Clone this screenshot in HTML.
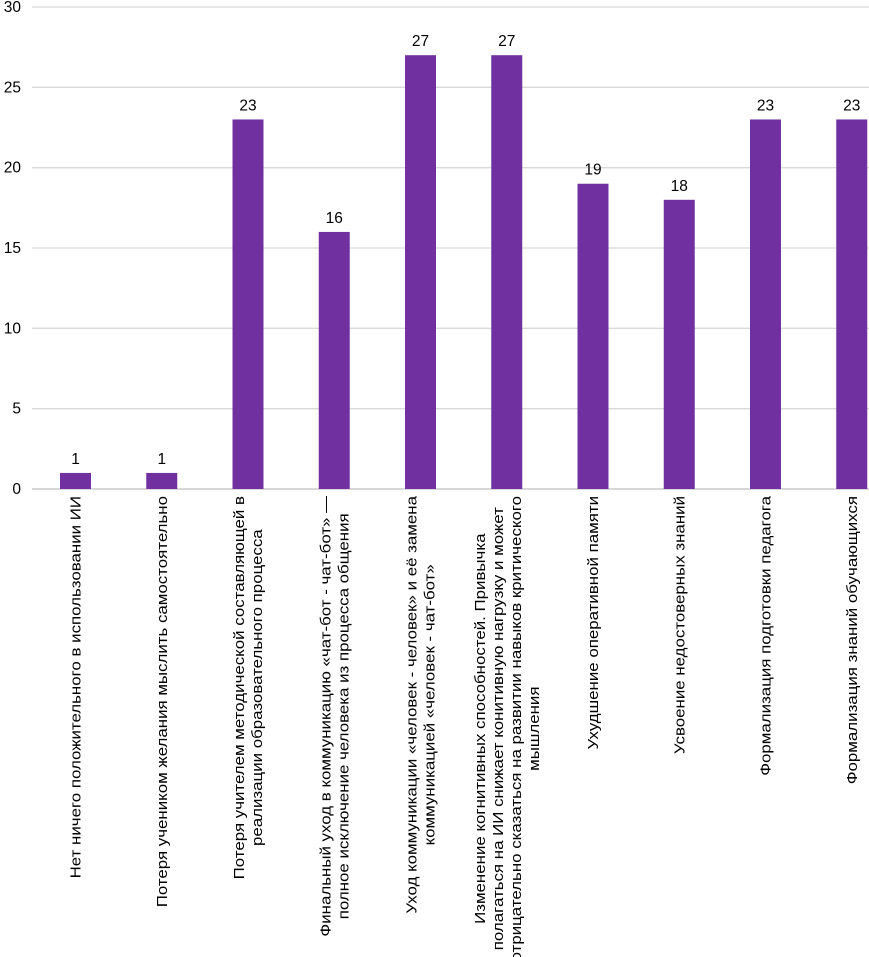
<!DOCTYPE html>
<html><head><meta charset="utf-8"><style>
html,body{margin:0;padding:0;background:#fff;}
svg{display:block;font-family:"Liberation Sans",Arial,sans-serif;}
</style></head><body>
<svg id="chart" width="869" height="957" viewBox="0 0 869 957" xmlns="http://www.w3.org/2000/svg">
<g id="grid"></g>
<g id="yticks"></g>
<g id="bars"></g>
<g id="vals"></g>
<g id="xlabels"></g>
</svg>
<script>
const categories = [
  ["Нет ничего положительного в использовании ИИ"],
  ["Потеря учеником желания мыслить самостоятельно"],
  ["Потеря учителем методической составляющей в","реализации образовательного процесса"],
  ["Финальный уход в коммуникацию «чат-бот - чат-бот» —","полное исключение человека из процесса общения"],
  ["Уход коммуникации «человек - человек» и её замена","коммуникацией «человек - чат-бот»"],
  ["Изменение когнитивных способностей. Привычка","полагаться на ИИ снижает конитивную нагрузку и может","отрицательно сказаться на развитии навыков критического","мышления"],
  ["Ухудшение оперативной памяти"],
  ["Усвоение недостоверных знаний"],
  ["Формализация подготовки педагога"],
  ["Формализация знаний обучающихся"]
];
const values = [1,1,23,16,27,27,19,18,23,23];
const yTicks = [0,5,10,15,20,25,30];

const NS="http://www.w3.org/2000/svg";
const plotL=32, plotR=869, y0=489, yTop=7, yMax=30;
const step=86.25, firstC=75.5, barW=31;
function yS(v){return y0-(v/yMax)*(y0-yTop);}
function xC(i){return firstC+i*step;}
function mk(tag,attrs,parent){const e=document.createElementNS(NS,tag);for(const k in attrs)e.setAttribute(k,attrs[k]);parent.appendChild(e);return e;}

const grid=document.getElementById('grid'), yt=document.getElementById('yticks');
yTicks.forEach(t=>{
  const l=mk('line',{x1:plotL,x2:plotR,y1:yS(t),y2:yS(t),stroke:t===0?'#bfbfbf':'#d9d9d9','stroke-width':1.3},grid);
  
  
  const tx=mk('text',{x:21,y:yS(t)+5,'text-anchor':'end','font-size':15.5,fill:'#000'},yt);
  tx.textContent=t;
  
  
});

const bars=document.getElementById('bars'), vals=document.getElementById('vals'), xl=document.getElementById('xlabels');
values.forEach((v,i)=>{
  const r=mk('rect',{x:xC(i)-barW/2,y:yS(v),width:barW,height:y0-yS(v),fill:'#7030a0'},bars);
  
  
  const t=mk('text',{x:xC(i),y:yS(v)-9,'text-anchor':'middle','font-size':15.5,fill:'#000'},vals);
  t.textContent=v;
  
  
});

categories.forEach((lines,i)=>{
  const g=mk('g',{},xl);
  
  
  const n=lines.length, els=[];
  lines.forEach((s,j)=>{
    const t=mk('text',{'text-anchor':'middle','font-size':15,fill:'#000'},g);
    t.textContent=s; els.push(t);
  });
  let maxL=0;
  els.forEach(e=>{
    const L=e.getComputedTextLength()*1.125;
    e.setAttribute('textLength',L);
    e.setAttribute('lengthAdjust','spacingAndGlyphs');
    maxL=Math.max(maxL,L);
  });
  const yc=496+maxL/2;
  els.forEach((e,j)=>{
    const x=xC(i)+5+(j-(n-1)/2)*18;
    e.setAttribute('transform','translate('+x+','+yc+') rotate(-90)');
  });
});
</script>
</body></html>
